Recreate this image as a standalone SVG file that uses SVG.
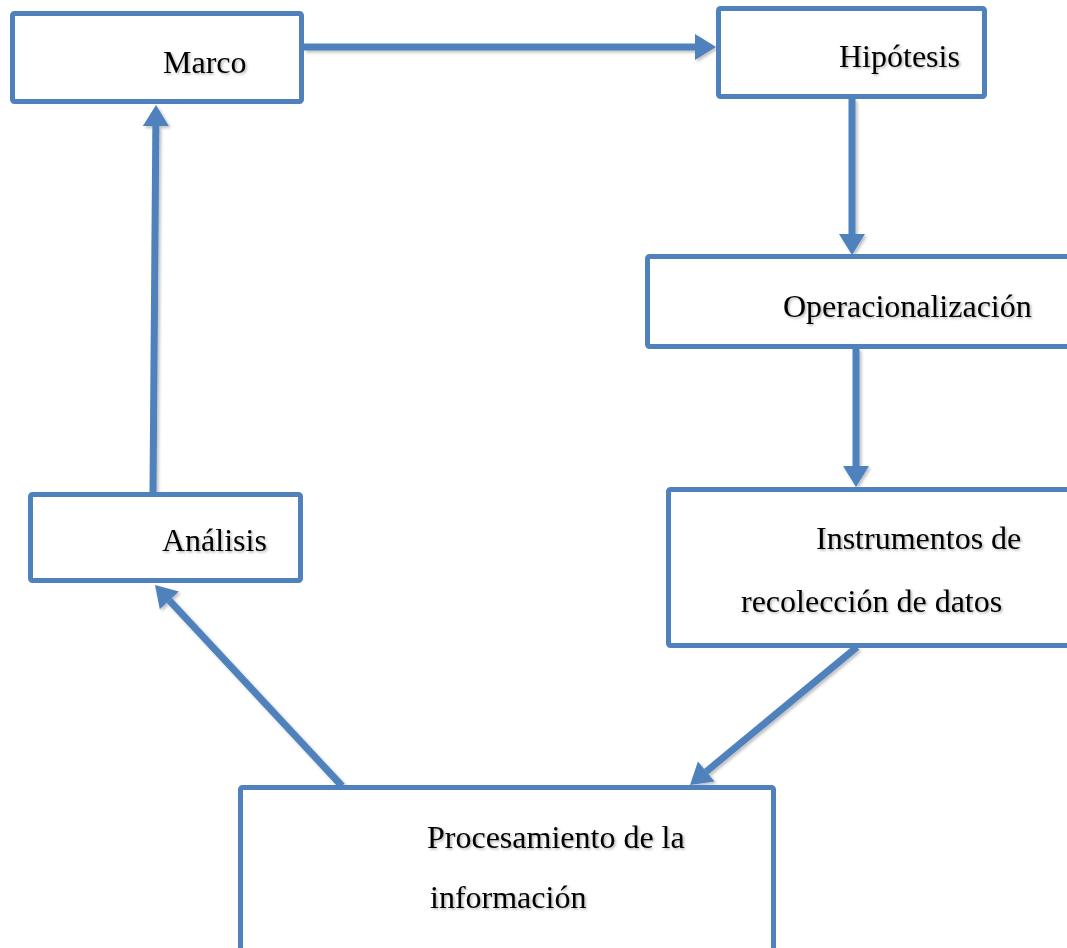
<svg xmlns="http://www.w3.org/2000/svg" width="1067" height="948" viewBox="0 0 1067 948">
<style>
.box{fill:#fff;stroke:#4F81BD;stroke-width:5}
.lbl{font-family:"Liberation Serif","Times New Roman",serif;font-size:32px;fill:#000;filter:url(#tsh)}
.con{stroke:#4F81BD;stroke-width:7;fill:none;marker-end:url(#ah)}
</style>
<defs>
<filter id="tsh" x="-10%" y="-20%" width="130%" height="150%"><feDropShadow dx="1.5" dy="1.5" stdDeviation="1" flood-color="#000" flood-opacity="0.3"/></filter>
<filter id="lsh" x="-10%" y="-10%" width="130%" height="130%"><feDropShadow dx="2" dy="2" stdDeviation="1.5" flood-color="#000" flood-opacity="0.25"/></filter>
<marker id="ah" markerUnits="userSpaceOnUse" markerWidth="24" markerHeight="28" refX="0" refY="13" orient="auto" overflow="visible">
<path d="M0,0 L21,13 L0,26 Z" fill="#4F81BD"/>
</marker>
</defs>
<rect width="1067" height="948" fill="#fff"/>
<g id="connectors" filter="url(#lsh)">
<line class="con" x1="304" y1="47" x2="695" y2="47"/>
<line class="con" x1="852" y1="99" x2="852" y2="234"/>
<line class="con" x1="856" y1="349" x2="856" y2="466"/>
<line class="con" x1="857" y1="647" x2="706.2" y2="771.6"/>
<line class="con" x1="342" y1="786" x2="169.3" y2="600.4"/>
<line class="con" x1="153" y1="492" x2="155.85" y2="126"/>
</g>
<g id="marco">
<rect class="box" x="12.5" y="13.5" width="289" height="88" rx="2"/>
<text class="lbl" x="163" y="73">Marco</text>
</g>
<g id="hipotesis">
<rect class="box" x="718.5" y="8.5" width="266" height="88" rx="2"/>
<text class="lbl" x="839" y="67">Hipótesis</text>
</g>
<g id="operacionalizacion">
<rect class="box" x="647.5" y="256.5" width="450" height="90" rx="2"/>
<text class="lbl" x="783" y="317">Operacionalización</text>
</g>
<g id="instrumentos">
<rect class="box" x="668.5" y="489.5" width="430" height="156" rx="2"/>
<text class="lbl" x="816" y="549">Instrumentos de</text>
<text class="lbl" x="741" y="612">recolección de datos</text>
</g>
<g id="procesamiento">
<rect class="box" x="240.5" y="787.5" width="533" height="200" rx="2"/>
<text class="lbl" x="427" y="848">Procesamiento de la</text>
<text class="lbl" x="430" y="908">información</text>
</g>
<g id="analisis">
<rect class="box" x="30.5" y="494.5" width="270" height="86" rx="2"/>
<text class="lbl" x="162" y="551">Análisis</text>
</g>
</svg>
